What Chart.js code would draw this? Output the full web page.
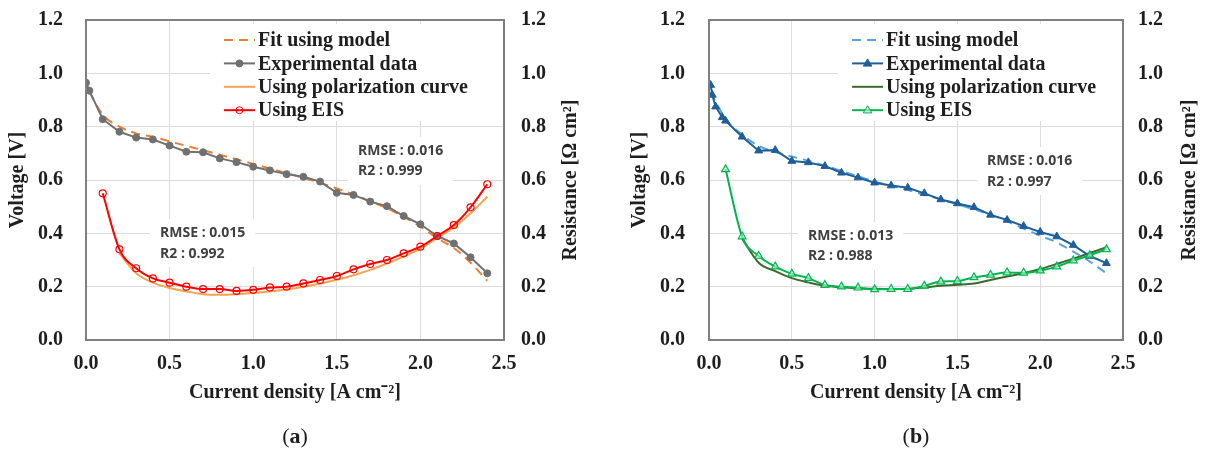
<!DOCTYPE html>
<html>
<head>
<meta charset="utf-8">
<script src="https://cdn.jsdelivr.net/npm/chart.js@4.4.1/dist/chart.umd.min.js"></script>
<style>
  body { margin: 0; background: #fff; }
  .panel { position: absolute; top: 0; width: 603px; height: 457px; }
</style>
</head>
<body>
<div class="panel" style="left:0"><canvas id="chartA" width="603" height="457"></canvas></div>
<div class="panel" style="left:603px"><canvas id="chartB" width="603" height="457"></canvas></div>
<script>
// ---- panel (a) ----
const aFitX = [0.02, 0.1, 0.2, 0.3, 0.4, 0.5, 0.6, 0.7, 0.8, 0.9, 1.0, 1.1, 1.2, 1.3, 1.4, 1.5, 1.6, 1.7, 1.8, 1.9, 2.0, 2.1, 2.2, 2.3, 2.4];
const aFitV = [0.93, 0.845, 0.80, 0.775, 0.762, 0.745, 0.728, 0.712, 0.695, 0.678, 0.66, 0.643, 0.626, 0.608, 0.59, 0.568, 0.546, 0.521, 0.494, 0.462, 0.425, 0.382, 0.345, 0.29, 0.222];
const aExpX = [0, 0.02, 0.1, 0.2, 0.3, 0.4, 0.5, 0.6, 0.7, 0.8, 0.9, 1.0, 1.1, 1.2, 1.3, 1.4, 1.5, 1.6, 1.7, 1.8, 1.9, 2.0, 2.1, 2.2, 2.3, 2.4];
const aExpV = [0.965, 0.935, 0.828, 0.781, 0.759, 0.752, 0.729, 0.706, 0.704, 0.681, 0.667, 0.650, 0.636, 0.622, 0.612, 0.594, 0.552, 0.544, 0.519, 0.502, 0.465, 0.434, 0.39, 0.362, 0.31, 0.25];
const aPolX = [0.2, 0.3, 0.4, 0.5, 0.6, 0.7, 0.8, 0.9, 1.0, 1.1, 1.2, 1.3, 1.4, 1.5, 1.6, 1.7, 1.8, 1.9, 2.0, 2.1, 2.2, 2.3, 2.4];
const aPolR = [0.325, 0.25, 0.215, 0.195, 0.182, 0.172, 0.17, 0.172, 0.176, 0.182, 0.19, 0.2, 0.212, 0.226, 0.243, 0.263, 0.287, 0.313, 0.343, 0.383, 0.422, 0.475, 0.537];
const aEisX = [0.1, 0.2, 0.3, 0.4, 0.5, 0.6, 0.7, 0.8, 0.9, 1.0, 1.1, 1.2, 1.3, 1.4, 1.5, 1.6, 1.7, 1.8, 1.9, 2.0, 2.1, 2.2, 2.3, 2.4];
const aEisR = [0.55, 0.34, 0.269, 0.231, 0.215, 0.20, 0.191, 0.191, 0.184, 0.188, 0.197, 0.20, 0.212, 0.225, 0.24, 0.265, 0.285, 0.30, 0.325, 0.35, 0.39, 0.431, 0.4975, 0.584];
const aNotes = [['RMSE : 0.016', 'R2 : 0.999'], ['RMSE : 0.015', 'R2 : 0.992']];

// ---- panel (b) ----
const bFitX = [0.01, 0.1, 0.2, 0.3, 0.4, 0.5, 0.6, 0.7, 0.8, 0.9, 1.0, 1.1, 1.2, 1.3, 1.4, 1.5, 1.6, 1.7, 1.8, 1.9, 2.0, 2.1, 2.2, 2.3, 2.4];
const bFitV = [0.93, 0.83, 0.77, 0.728, 0.705, 0.688, 0.672, 0.654, 0.634, 0.614, 0.595, 0.578, 0.562, 0.545, 0.527, 0.509, 0.49, 0.47, 0.445, 0.418, 0.391, 0.366, 0.331, 0.294, 0.25];
const bExpX = [0.01, 0.02, 0.04, 0.08, 0.1, 0.2, 0.3, 0.4, 0.5, 0.6, 0.7, 0.8, 0.9, 1.0, 1.1, 1.2, 1.3, 1.4, 1.5, 1.6, 1.7, 1.8, 1.9, 2.0, 2.1, 2.2, 2.3, 2.4];
const bExpV = [0.956, 0.919, 0.875, 0.835, 0.822, 0.762, 0.71, 0.712, 0.671, 0.666, 0.652, 0.627, 0.609, 0.59, 0.579, 0.571, 0.55, 0.527, 0.512, 0.498, 0.469, 0.45, 0.427, 0.405, 0.388, 0.356, 0.315, 0.288];
const bPolX = [0.2, 0.3, 0.4, 0.5, 0.6, 0.7, 0.8, 0.9, 1.0, 1.1, 1.2, 1.3, 1.4, 1.5, 1.6, 1.7, 1.8, 1.9, 2.0, 2.1, 2.2, 2.3, 2.4];
const bPolR = [0.38, 0.29, 0.258, 0.232, 0.216, 0.203, 0.198, 0.194, 0.192, 0.191, 0.192, 0.197, 0.203, 0.207, 0.212, 0.225, 0.238, 0.25, 0.266, 0.285, 0.305, 0.326, 0.348];
const bEisX = [0.1, 0.2, 0.3, 0.4, 0.5, 0.6, 0.7, 0.8, 0.9, 1.0, 1.1, 1.2, 1.3, 1.4, 1.5, 1.6, 1.7, 1.8, 1.9, 2.0, 2.1, 2.2, 2.3, 2.4];
const bEisR = [0.64, 0.388, 0.315, 0.275, 0.248, 0.232, 0.206, 0.20, 0.196, 0.19, 0.191, 0.191, 0.203, 0.219, 0.221, 0.235, 0.244, 0.253, 0.252, 0.26, 0.275, 0.298, 0.318, 0.34];
const bNotes = [['RMSE : 0.016', 'R2 : 0.997'], ['RMSE : 0.013', 'R2 : 0.988']];

const seriesNames = ['Fit using model', 'Experimental data', 'Using polarization curve', 'Using EIS'];

const serif = "'Liberation Serif', 'Times New Roman', serif";
const ink = '#1e1e1e';

function pts(xs, ys) {
    return xs.map((x, i) => ({x: x, y: ys[i]}));
}

function marker(ctx, style, x, y, r) {
    ctx.beginPath();
    if (style === 'triangle') {
        ctx.moveTo(x, y - r);
        ctx.lineTo(x + r * 0.95, y + r * 0.6);
        ctx.lineTo(x - r * 0.95, y + r * 0.6);
        ctx.closePath();
    } else {
        ctx.arc(x, y, r, 0, Math.PI * 2);
    }
    ctx.fill();
    ctx.stroke();
}

const panelDecor = {
    id: 'panelDecor',
    beforeDatasetsDraw(chart, args, opts) {
        const {ctx, chartArea: ca, scales: {x, y}} = chart;
        ctx.save();

        // legend box
        const lx = x.getPixelForValue(opts.legendX);
        ctx.fillStyle = '#fff';
        ctx.fillRect(lx - 14, ca.top + 4, ca.right - lx + 13, 97);
        ctx.font = 'bold 20px ' + serif;
        ctx.textBaseline = 'middle';
        chart.data.datasets.forEach((ds, i) => {
            const ry = ca.top + 20 + i * 23.4;
            ctx.strokeStyle = ds.borderColor;
            ctx.lineWidth = 2;
            ctx.setLineDash(ds.borderDash || []);
            ctx.beginPath();
            ctx.moveTo(lx, ry);
            ctx.lineTo(lx + 31, ry);
            ctx.stroke();
            ctx.setLineDash([]);
            if (ds.pointRadius > 0) {
                ctx.fillStyle = ds.pointBackgroundColor;
                ctx.strokeStyle = ds.pointBorderColor;
                ctx.lineWidth = 1;
                marker(ctx, ds.pointStyle, lx + 15.5, ry, ds.pointRadius);
            }
            ctx.fillStyle = ink;
            ctx.textAlign = 'left';
            ctx.fillText(ds.label, lx + 34, ry + 1);
        });

        // RMSE / R2 notes
        ctx.font = 'bold 14px "Open Sans", sans-serif';
        opts.notes.forEach((n) => {
            const nx = x.getPixelForValue(n.x);
            const ny = y.getPixelForValue(n.y);
            const w = Math.max(...n.lines.map(t => ctx.measureText(t).width));
            ctx.fillStyle = '#fff';
            ctx.fillRect(nx - 10, ny - 14, w + 20, 48);
            ctx.fillStyle = '#404040';
            n.lines.forEach((t, k) => ctx.fillText(t, nx, ny + k * 20.5));
        });
        ctx.restore();
    },
    afterDraw(chart, args, opts) {
        const {ctx, chartArea: ca} = chart;
        ctx.save();
        ctx.strokeStyle = '#808080';
        ctx.lineWidth = 2;
        ctx.strokeRect(ca.left, ca.top, ca.right - ca.left, ca.bottom - ca.top);

        // right axis title, reading bottom to top
        ctx.translate(opts.rightTitleX, (ca.top + ca.bottom) / 2);
        ctx.rotate(-Math.PI / 2);
        ctx.fillStyle = ink;
        ctx.font = 'bold 20px ' + serif;
        ctx.textAlign = 'center';
        ctx.textBaseline = 'middle';
        ctx.fillText('Resistance [\u03A9 cm\u00B2]', 0, 0);
        ctx.restore();

        // panel tag "(a)" with bold letter
        ctx.save();
        ctx.fillStyle = ink;
        ctx.textBaseline = 'middle';
        const cx = (ca.left + ca.right) / 2;
        ctx.font = '22px ' + serif;
        const wp = ctx.measureText('(').width;
        ctx.font = 'bold 22px ' + serif;
        const wl = ctx.measureText(opts.tag).width;
        let sx = cx - (2 * wp + wl) / 2;
        ctx.font = '22px ' + serif;
        ctx.textAlign = 'left';
        ctx.fillText('(', sx, 437);
        ctx.font = 'bold 22px ' + serif;
        ctx.fillText(opts.tag, sx + wp, 437);
        ctx.font = '22px ' + serif;
        ctx.fillText(')', sx + wp + wl, 437);
        ctx.restore();
    }
};

// keep the tick label overhang from pushing the plot area down
function fixWidth(w) {
    return (sc) => {
        sc.width = w;
        sc.paddingTop = 0;
        sc.paddingBottom = 0;
    };
}

function makeChart(id, s) {
    const tickFont = {family: serif, size: 20, weight: 'bold'};
    const fmt = v => v.toFixed(1);
    return new Chart(document.getElementById(id), {
        type: 'line',
        data: {
            datasets: [
                {label: seriesNames[0], data: pts(s.fit[0], s.fit[1]), yAxisID: 'y', order: 2,
                    borderColor: s.colors[0], borderWidth: 2, borderDash: [9, 6], pointRadius: 0,
                    cubicInterpolationMode: 'monotone'},
                {label: seriesNames[1], data: pts(s.exp[0], s.exp[1]), yAxisID: 'y', order: 1,
                    borderColor: s.colors[1], borderWidth: 2, pointRadius: s.expMarker === 'triangle' ? 4.5 : 3.5,
                    pointStyle: s.expMarker, pointBackgroundColor: s.colors[1], pointBorderColor: s.colors[1],
                    pointBorderWidth: 1, tension: 0},
                {label: seriesNames[2], data: pts(s.pol[0], s.pol[1]), yAxisID: 'y1', order: 3,
                    borderColor: s.colors[2], borderWidth: 2, pointRadius: 0,
                    cubicInterpolationMode: 'monotone'},
                {label: seriesNames[3], data: pts(s.eis[0], s.eis[1]), yAxisID: 'y1', order: 0,
                    borderColor: s.colors[3], borderWidth: 2, pointRadius: s.expMarker === 'triangle' ? 4.5 : 3.5,
                    pointStyle: s.expMarker, pointBackgroundColor: s.eisFill, pointBorderColor: s.colors[3],
                    pointBorderWidth: 1.2, cubicInterpolationMode: 'monotone'}
            ]
        },
        options: {
            responsive: false,
            animation: false,
            layout: {padding: {top: 20, left: 0, right: 0, bottom: 0}},
            plugins: {
                legend: {display: false},
                tooltip: {enabled: false},
                panelDecor: {legendX: s.legendX, notes: s.notes, rightTitleX: s.rightTitleX, tag: s.tag}
            },
            scales: {
                x: {
                    type: 'linear', min: 0, max: 2.5,
                    ticks: {stepSize: 0.5, padding: 12, color: ink, font: tickFont, callback: fmt},
                    grid: {color: '#dcdcdc', drawTicks: false},
                    border: {display: false},
                    title: {display: true, text: 'Current density [A cm\u207B\u00B2]', color: ink,
                        font: tickFont, padding: {top: 0, bottom: 52}},
                    afterFit: (sc) => { sc.height = 117; }
                },
                y: {
                    position: 'left', min: 0, max: 1.2,
                    ticks: {stepSize: 0.2, padding: s.padL, color: ink, font: tickFont, callback: fmt},
                    grid: {color: '#dcdcdc', drawTicks: false},
                    border: {display: false},
                    title: {display: true, text: 'Voltage [V]', color: ink, font: tickFont,
                        padding: {top: s.leftTitlePad, bottom: 0}},
                    afterFit: fixWidth(s.leftW)
                },
                y1: {
                    position: 'right', min: 0, max: 1.2,
                    ticks: {stepSize: 0.2, padding: s.padR, color: ink, font: tickFont, callback: fmt},
                    grid: {display: false, drawTicks: false},
                    border: {display: false},
                    afterFit: fixWidth(s.rightW)
                }
            }
        },
        plugins: [panelDecor]
    });
}

makeChart('chartA', {
    fit: [aFitX, aFitV], exp: [aExpX, aExpV], pol: [aPolX, aPolR], eis: [aEisX, aEisR],
    colors: ['#ED7D31', '#707070', '#F7A24F', '#FF0000'], expMarker: 'circle', eisFill: 'rgba(255,255,255,0)',
    legendX: 0.825,
    notes: [{x: 1.627, y: 0.709, lines: aNotes[0]}, {x: 0.443, y: 0.401, lines: aNotes[1]}],
    leftW: 86, rightW: 99, padL: 23, padR: 17, leftTitlePad: 6, rightTitleX: 571, tag: 'a'
});

makeChart('chartB', {
    fit: [bFitX, bFitV], exp: [bExpX, bExpV], pol: [bPolX, bPolR], eis: [bEisX, bEisR],
    colors: ['#5BA3DC', '#1F5F99', '#3B6A2A', '#00B550'], expMarker: 'triangle', eisFill: 'rgba(200,240,215,0.6)',
    legendX: 0.864,
    notes: [{x: 1.679, y: 0.671, lines: bNotes[0]}, {x: 0.598, y: 0.39, lines: bNotes[1]}],
    leftW: 106, rightW: 83, padL: 24, padR: 15, leftTitlePad: 25, rightTitleX: 587, tag: 'b'
});
</script>
</body>
</html>
